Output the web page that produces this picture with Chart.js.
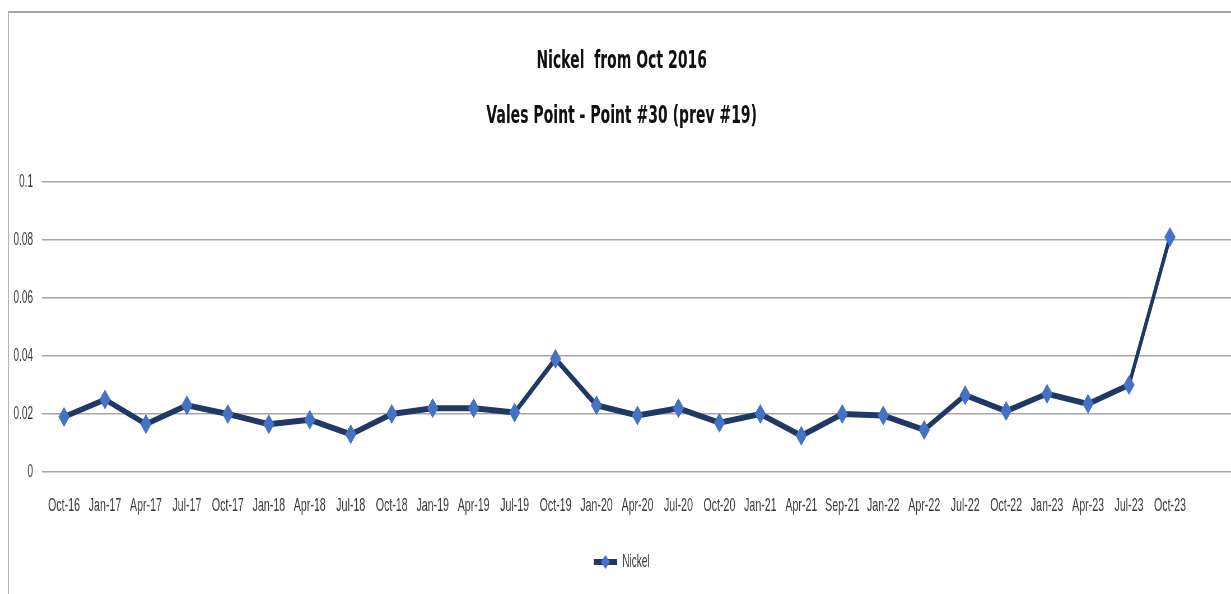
<!DOCTYPE html>
<html>
<head>
<meta charset="utf-8">
<title>Nickel from Oct 2016</title>
<script src="https://cdn.jsdelivr.net/npm/chart.js@4.4.0/dist/chart.umd.min.js"></script>
<style>
  html, body { margin: 0; padding: 0; background: #ffffff; }
  #frame {
    position: absolute; left: 8px; top: 11px; width: 1223px; height: 583px;
    border-top: 2px solid #a6a6a6; border-left: 1px solid #b4b4b4;
    box-sizing: border-box;
  }
  #chart { position: absolute; left: 0; top: 0; }
</style>
</head>
<body>
<div id="frame"></div>
<!-- Drawn on a wide backing store and shown condensed horizontally -->
<canvas id="chart" width="2198" height="594" style="width:1231px;height:594px"></canvas>
<script>
const categories = ['Oct-16','Jan-17','Apr-17','Jul-17','Oct-17','Jan-18','Apr-18','Jul-18',
  'Oct-18','Jan-19','Apr-19','Jul-19','Oct-19','Jan-20','Apr-20','Jul-20','Oct-20','Jan-21',
  'Apr-21','Sep-21','Jan-22','Apr-22','Jul-22','Oct-22','Jan-23','Apr-23','Jul-23','Oct-23'];

const nickel = [0.019, 0.025, 0.0165, 0.023, 0.020, 0.0165, 0.018, 0.013,
  0.020, 0.022, 0.022, 0.0205, 0.039, 0.023, 0.0195, 0.022, 0.017, 0.020,
  0.0125, 0.020, 0.0195, 0.0145, 0.0265, 0.021, 0.027, 0.0235, 0.030, 0.081];

const titleLines = ['Nickel  from Oct 2016', 'Vales Point - Point #30 (prev #19)'];
const seriesName = 'Nickel';
const yTicks = [0, 0.02, 0.04, 0.06, 0.08, 0.1];

const LINE_COLOR = '#1f3864';
const MARKER_COLOR = '#4472c4';
const TEXT_COLOR = '#3a3a3a';

// legend sample: short thick line with a diamond marker
function legendIcon() {
  const c = document.createElement('canvas');
  c.width = 42; c.height = 24;
  const g = c.getContext('2d');
  g.strokeStyle = LINE_COLOR; g.lineWidth = 6;
  g.beginPath(); g.moveTo(0, 12); g.lineTo(42, 12); g.stroke();
  g.fillStyle = MARKER_COLOR;
  g.beginPath();
  g.moveTo(21 - 8, 12); g.lineTo(21, 12 - 7);
  g.lineTo(21 + 8, 12); g.lineTo(21, 12 + 7);
  g.closePath(); g.fill();
  return c;
}

const points = nickel.map((v, i) => ({ x: i, y: v }));

new Chart(document.getElementById('chart'), {
  type: 'line',
  data: {
    datasets: [{
      label: seriesName,
      data: points,
      borderColor: LINE_COLOR,
      borderWidth: 6,
      tension: 0,
      pointStyle: 'rectRot',
      pointRadius: 9.5,
      pointBorderWidth: 1,
      pointBackgroundColor: MARKER_COLOR,
      pointBorderColor: MARKER_COLOR,
      fill: false
    }]
  },
  options: {
    responsive: false,
    animation: false,
    devicePixelRatio: 1,
    layout: { autoPadding: false, padding: { left: 22, right: 0, top: 0, bottom: 13 } },
    scales: {
      x: {
        type: 'linear',
        min: -0.537,
        max: 28.49,
        grid: { display: false },
        border: { display: false },
        afterFit: s => { s.height = 71; s.paddingLeft = 0; s.paddingRight = 0; },
        afterBuildTicks: s => { s.ticks = categories.map((_, i) => ({ value: i })); },
        ticks: {
          autoSkip: false,
          maxRotation: 0,
          padding: 14,
          color: TEXT_COLOR,
          font: { family: 'Liberation Sans', size: 19 },
          callback: v => (Number.isInteger(v) && v >= 0 && v < categories.length) ? categories[v] : ''
        }
      },
      y: {
        min: yTicks[0],
        max: yTicks[yTicks.length - 1],
        afterFit: s => { s.width = 53; },
        afterBuildTicks: s => { s.ticks = yTicks.map(v => ({ value: v })); },
        grid: { color: '#a6a6a6', lineWidth: 1.5, drawTicks: false },
        border: { display: false },
        ticks: {
          padding: 16,
          color: TEXT_COLOR,
          font: { family: 'Liberation Sans', size: 18 },
          callback: v => String(+v.toFixed(2))
        }
      }
    },
    plugins: {
      title: {
        display: true,
        text: titleLines,
        color: '#111111',
        font: { family: 'DejaVu Sans', weight: 'bold', size: 25, lineHeight: 2.2 },
        padding: { top: 34, bottom: 38 }
      },
      legend: {
        position: 'bottom',
        labels: {
          usePointStyle: true,
          pointStyleWidth: 42,
          padding: 10,
          color: TEXT_COLOR,
          font: { family: 'Liberation Sans', size: 18 },
          generateLabels: chart => Chart.defaults.plugins.legend.labels.generateLabels(chart)
            .map(item => Object.assign(item, { pointStyle: legendIcon() }))
        }
      },
      tooltip: { enabled: false }
    }
  }
});
</script>
</body>
</html>
